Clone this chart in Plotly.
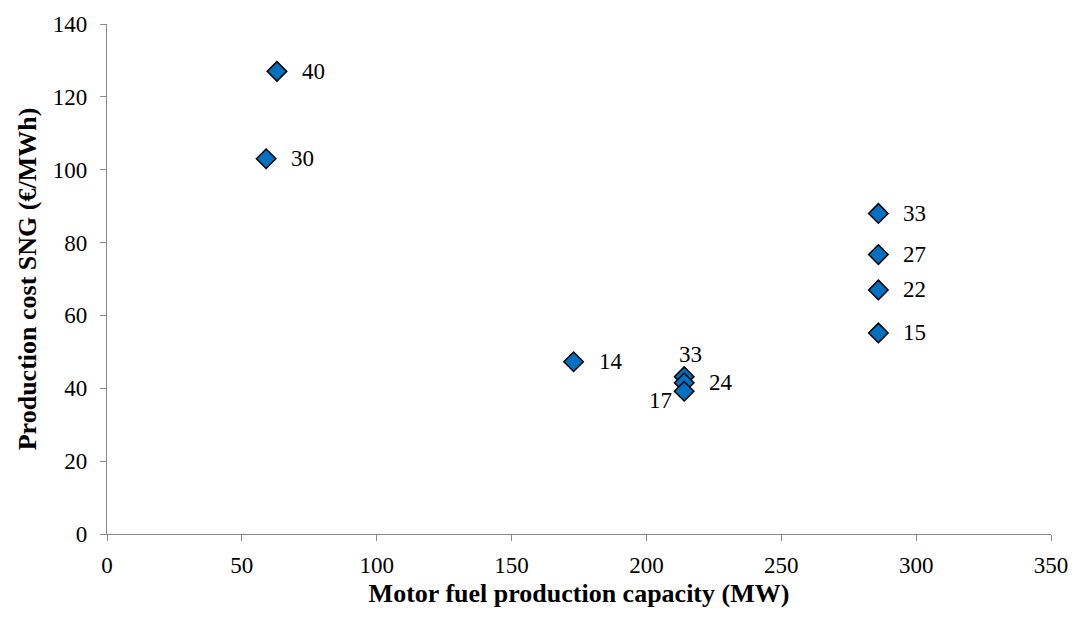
import plotly.graph_objects as go

capacity_mw = [63, 59, 286, 286, 286, 286, 173, 214, 214, 214]
cost_eur_mwh = [127, 103, 88, 76.7, 67, 55.2, 47.3, 43.2, 41.5, 39.2]
point_labels = ["40", "30", "33", "27", "22", "15", "14", "33", "24", "17"]
label_pos = ["right", "right", "right", "right", "right", "right", "right", "top", "right", "left"]

font_family = "Liberation Serif, Times New Roman, serif"

fig = go.Figure()
fig.add_trace(go.Scatter(
    x=capacity_mw, y=cost_eur_mwh, mode="markers",
    marker=dict(symbol="diamond", size=15, color="#0070C0",
                line=dict(color="black", width=1.5)),
    showlegend=False, hoverinfo="skip",
))

for x, y, t, p in zip(capacity_mw, cost_eur_mwh, point_labels, label_pos):
    if p == "right":
        kw = dict(xanchor="left", yanchor="middle", xshift=23, yshift=0)
    elif p == "top":
        kw = dict(xanchor="center", yanchor="bottom", xshift=6, yshift=8)
    else:
        kw = dict(xanchor="right", yanchor="middle", xshift=-10, yshift=-9)
    fig.add_annotation(x=x, y=y, text=t, showarrow=False,
                       font=dict(family=font_family, size=23, color="black"), **kw)

axis_common = dict(
    showgrid=False, zeroline=False, showline=True, linecolor="#898989", linewidth=1.3,
    ticks="outside", ticklen=6, tickcolor="#898989", tickwidth=1.3,
    tickfont=dict(family=font_family, size=23, color="black"),
)

fig.update_xaxes(range=[0, 350], dtick=50, ticklabelstandoff=4, **axis_common,
                 title=dict(text="<b>Motor fuel production capacity (MW)</b>",
                            font=dict(family=font_family, size=26, color="black"), standoff=7))
fig.update_yaxes(range=[0, 140], dtick=20, ticklabelstandoff=8, **axis_common,
                 title=dict(text="<b>Production cost SNG (€/MWh)</b>",
                            font=dict(family=font_family, size=26, color="black"), standoff=8))

fig.update_layout(
    width=1080, height=623, margin=dict(l=107, r=21, t=20, b=89),
    plot_bgcolor="white", paper_bgcolor="white",
)

fig.write_html("out.html")
